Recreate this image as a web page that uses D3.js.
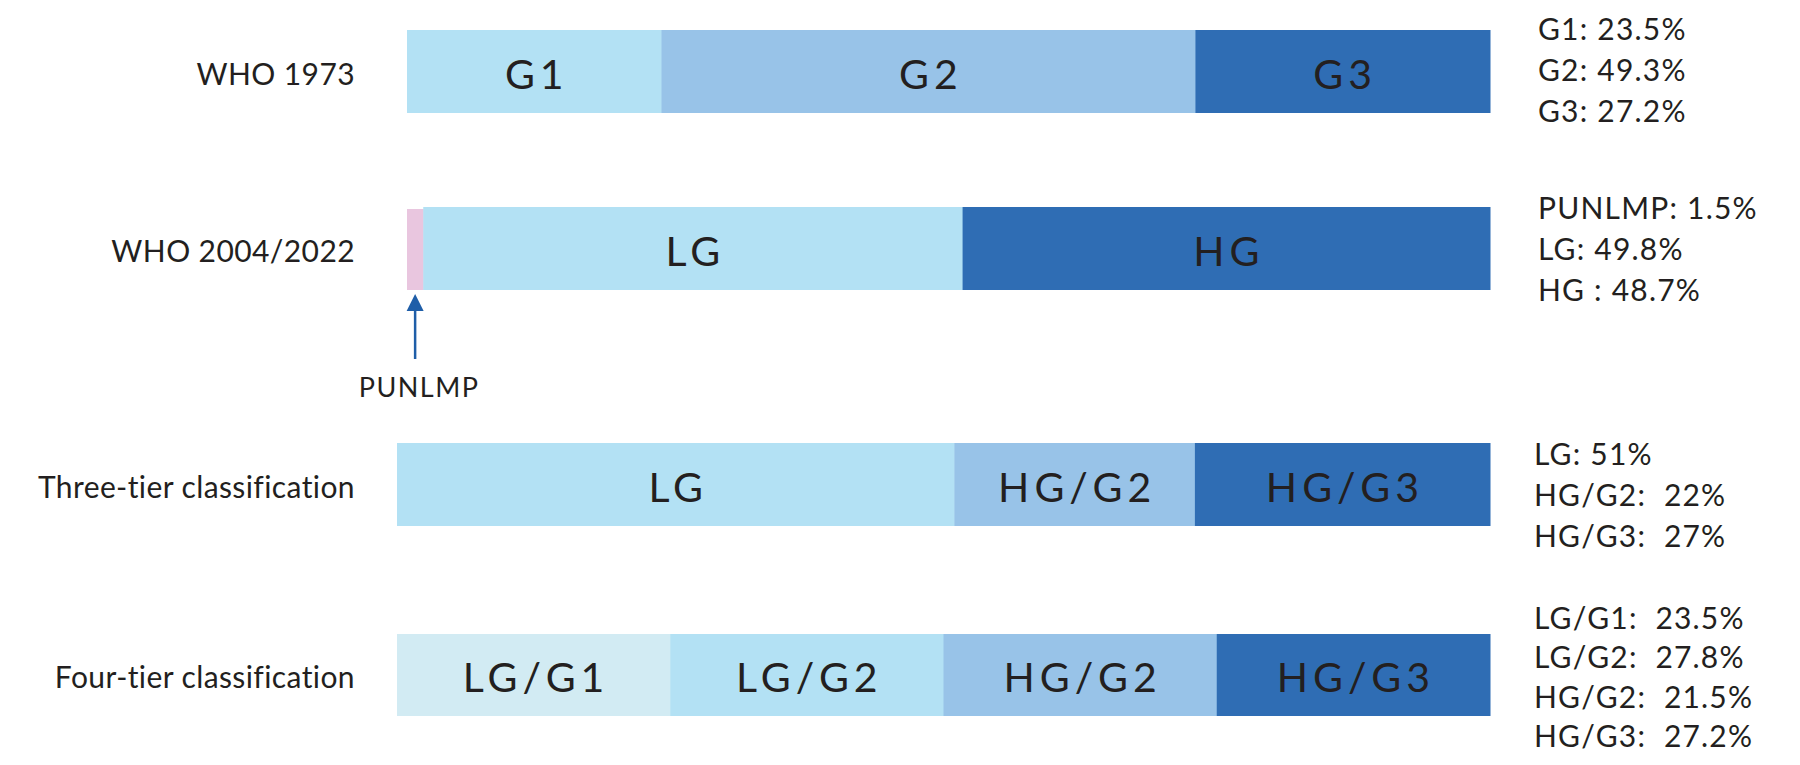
<!DOCTYPE html>
<html>
<head>
<meta charset="utf-8">
<script src="https://cdn.jsdelivr.net/npm/d3@7"></script>
<style>
  html, body { margin: 0; padding: 0; background: #ffffff; }
  svg { display: block; }
  text { font-family: Lato, "Open Sans", sans-serif; fill: #231f20; }
</style>
</head>
<body>
<script>
// ---------------- data ----------------
const rowNames = ["WHO 1973", "WHO 2004/2022", "Three-tier classification", "Four-tier classification"];

const who1973Cats = ["G1", "G2", "G3"];
const who1973Vals = [23.5, 49.3, 27.2];

const who2004Cats = ["PUNLMP", "LG", "HG"];
const who2004Vals = [1.5, 49.8, 48.7];

const threeTierCats = ["LG", "HG/G2", "HG/G3"];
const threeTierVals = [51, 22, 27];

const fourTierCats = ["LG/G1", "LG/G2", "HG/G2", "HG/G3"];
const fourTierVals = [23.5, 27.8, 21.5, 27.2];

const legendLabels1973 = ["G1: 23.5%", "G2: 49.3%", "G3: 27.2%"];
const legendLabels2004 = ["PUNLMP: 1.5%", "LG: 49.8%", "HG : 48.7%"];
const legendLabelsThree = ["LG: 51%", "HG/G2:  22%", "HG/G3:  27%"];
const legendLabelsFour = ["LG/G1:  23.5%", "LG/G2:  27.8%", "HG/G2:  21.5%", "HG/G3:  27.2%"];

// ---------------- style / layout ----------------
const W = 1800, H = 765;
const colorMap = {
  "G1": "#b3e1f4", "G2": "#98c3e8", "G3": "#2f6db4",
  "PUNLMP": "#e9c6df", "LG": "#b3e1f4", "HG": "#2f6db4",
  "HG/G2": "#98c3e8", "HG/G3": "#2f6db4",
  "LG/G1": "#d2ebf3", "LG/G2": "#b3e1f4"
};
const barRight = 1490;

const rows = [
  { name: rowNames[0], cats: who1973Cats, vals: who1973Vals, legend: legendLabels1973,
    left: 407, top: 30, h: 83, scale: "linear", legendX: 1538, legendOff: -2, legendGap: 41 },
  { name: rowNames[1], cats: who2004Cats, vals: who2004Vals, legend: legendLabels2004,
    left: 407, top: 207, h: 83, scale: "linear", legendX: 1538, legendOff: 0, legendGap: 41 },
  { name: rowNames[2], cats: threeTierCats, vals: threeTierVals, legend: legendLabelsThree,
    left: 397, top: 443, h: 83, scale: "linear", legendX: 1534, legendOff: 10, legendGap: 41 },
  { name: rowNames[3], cats: fourTierCats, vals: fourTierVals, legend: legendLabelsFour,
    left: 397, top: 634, h: 82, scale: "band", legendX: 1534, legendOff: 2, legendGap: 39.5 }
];

const svg = d3.select("body").append("svg").attr("width", W).attr("height", H);

rows.forEach((row, ri) => {
  const g = svg.append("g");
  let segs;
  if (row.scale === "linear") {
    const x = d3.scaleLinear().domain([0, 100]).range([row.left, barRight]);
    let acc = 0;
    segs = row.cats.map((c, i) => {
      const s = { cat: c, x0: x(acc), x1: x(acc + row.vals[i]) };
      acc += row.vals[i];
      return s;
    });
  } else {
    const xb = d3.scaleBand().domain(row.cats).range([row.left, barRight]).paddingInner(0);
    segs = row.cats.map(c => ({ cat: c, x0: xb(c), x1: xb(c) + xb.bandwidth() }));
  }

  g.selectAll("rect").data(segs).enter().append("rect")
    .attr("x", d => d.x0)
    .attr("y", d => d.cat === "PUNLMP" ? row.top + 2 : row.top)
    .attr("width", d => d.x1 - d.x0 + 0.5)
    .attr("height", d => d.cat === "PUNLMP" ? row.h - 2 : row.h)
    .attr("fill", d => colorMap[d.cat]);

  const cy = row.top + row.h / 2;

  // in-bar labels
  g.selectAll("text.seg").data(segs.filter(d => d.cat !== "PUNLMP")).enter().append("text")
    .attr("class", "seg")
    .attr("x", d => (d.x0 + d.x1) / 2 + 2.5)
    .attr("y", cy + 17)
    .attr("text-anchor", "middle")
    .style("font-size", "41px")
    .style("letter-spacing", "5px")
    .text(d => d.cat);

  // row title
  g.append("text")
    .attr("x", 355)
    .attr("y", cy + 13)
    .attr("text-anchor", "end")
    .style("font-size", "30px")
    .style("letter-spacing", "0.4px")
    .text(row.name);

  // right legend
  const n = row.legend.length;
  g.selectAll("text.leg").data(row.legend).enter().append("text")
    .attr("class", "leg")
    .attr("x", row.legendX)
    .attr("y", (d, i) => cy + row.legendOff + (i - (n - 1) / 2) * row.legendGap + 11)
    .style("font-size", "30px")
    .style("letter-spacing", "1.2px")
    .style("white-space", "pre")
    .text(d => d);

  // arrow for PUNLMP
  if (row.cats.includes("PUNLMP")) {
    const p = segs.find(d => d.cat === "PUNLMP");
    const ax = (p.x0 + p.x1) / 2;
    const yBottom = row.top + row.h;
    const ag = svg.append("g").attr("fill", "#1f5ea8").attr("stroke", "#1f5ea8");
    ag.append("line").attr("x1", ax).attr("x2", ax)
      .attr("y1", yBottom + 20).attr("y2", yBottom + 69).attr("stroke-width", 2.5);
    ag.append("path")
      .attr("d", `M${ax},${yBottom + 4} L${ax - 8.5},${yBottom + 21} L${ax + 8.5},${yBottom + 21} Z`)
      .attr("stroke", "none");
    svg.append("text")
      .attr("x", ax + 4)
      .attr("y", yBottom + 107)
      .attr("text-anchor", "middle")
      .style("font-size", "27px")
      .style("letter-spacing", "1.5px")
      .text("PUNLMP");
  }
});
</script>
</body>
</html>
